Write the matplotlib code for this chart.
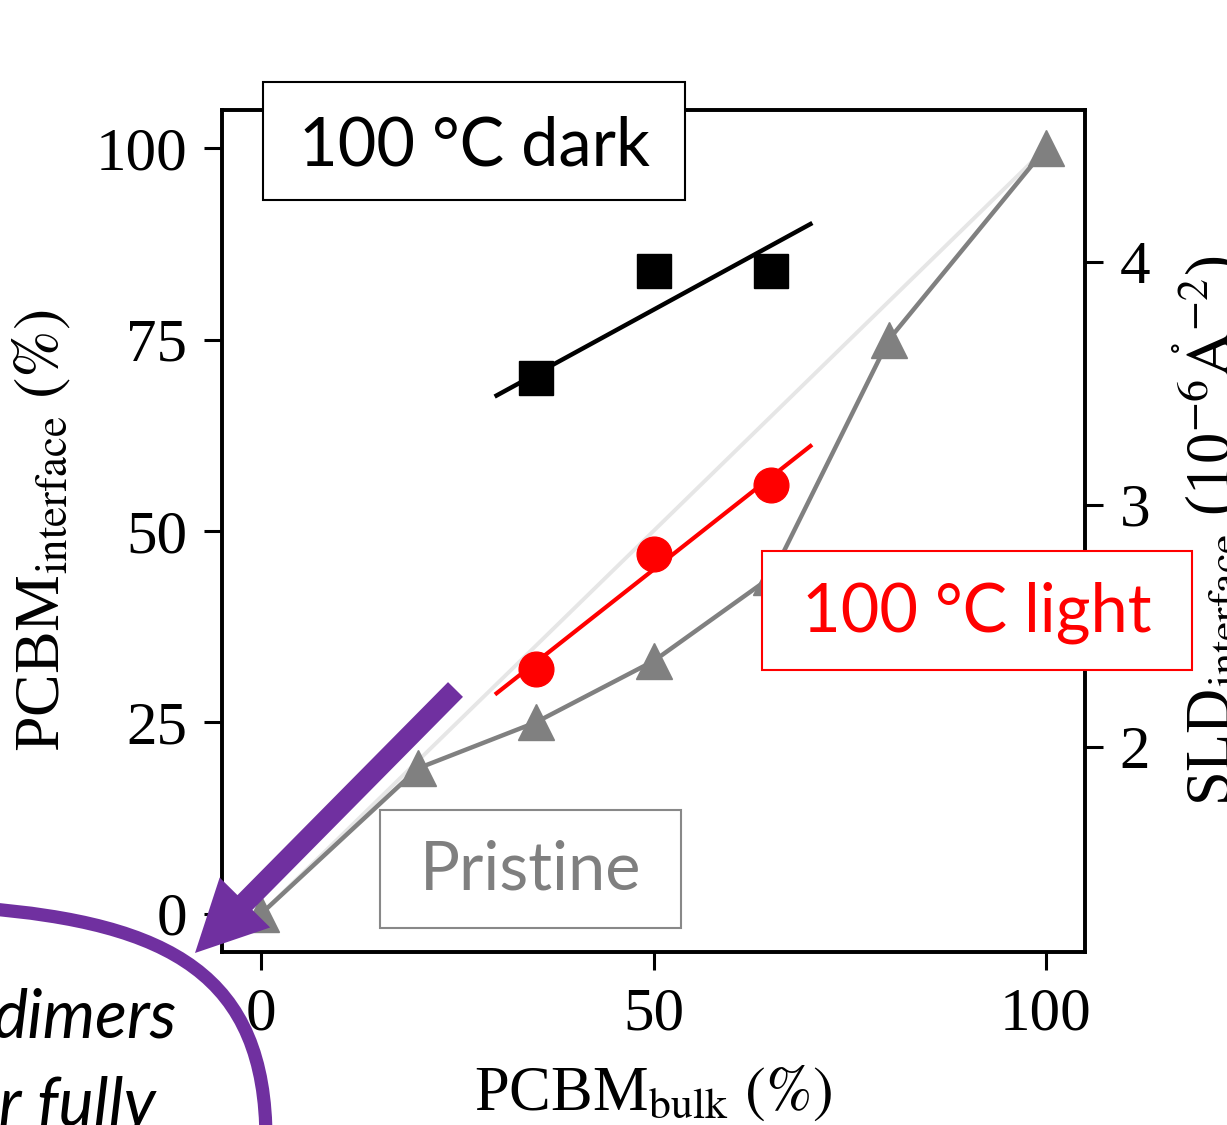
import numpy as np
import matplotlib
matplotlib.use('Agg')
import matplotlib.pyplot as plt
from matplotlib.patches import Rectangle, FancyArrow, PathPatch
from matplotlib.path import Path

# Datos: PCBM en volumen (%) frente a PCBM en la interfaz (%)
pristine_x = [0, 20, 35, 50, 65, 80, 100]
pristine_y = [0, 19, 25, 33, 44, 75, 100]

dark_x = [35, 50, 65]
dark_y = [70, 84, 84]

light_x = [35, 50, 65]
light_y = [32, 47, 56]

# Rectas de ajuste (extremos)
fit_x = [30, 70]
dark_fit_y = [67.7, 90.1]
light_fit_y = [28.8, 61.1]

# Referencia y = x
ref_x = [0, 100]
ref_y = [0, 100]

xticks = [0, 50, 100]
yticks = [0, 25, 50, 75, 100]
sld_ticks = [2, 3, 4]

W, H = 1227, 1125
PURPLE = '#7030A0'

plt.rcParams['font.family'] = ['Liberation Serif', 'DejaVu Serif']
plt.rcParams['mathtext.fontset'] = 'stix'


def fx(x):
    return x / W


def fy(y):
    return 1 - y / H


def inch(x, y):
    # pixeles (origen arriba a la izquierda) a pulgadas de la figura
    return (x / 100, (H - y) / 100)


def main():
    fig = plt.figure(figsize=(W / 100, H / 100), dpi=100)
    ax = fig.add_axes([fx(222), fy(952), fx(1085) - fx(222), fy(110) - fy(952)])

    # Linea de referencia y los datos
    ax.plot(ref_x, ref_y, color='#e6e6e6', lw=2.8, zorder=1)
    ax.plot(pristine_x, pristine_y, color='#808080', lw=3.2, marker='^',
            ms=26, zorder=2)
    ax.plot(fit_x, light_fit_y, color='red', lw=3.0, zorder=3)
    ax.plot(light_x, light_y, 'o', color='red', ms=25, zorder=3)
    ax.plot(fit_x, dark_fit_y, color='black', lw=3.2, zorder=3)
    ax.plot(dark_x, dark_y, 's', color='black', ms=25, zorder=3)

    ax.set_xlim(-5, 105)
    ax.set_ylim(-5, 105)
    ax.set_xticks(xticks)
    ax.set_yticks(yticks)
    ax.set_xlabel('PCBM$_\\mathrm{bulk}$ $(\\%)$', fontsize=45, labelpad=16)
    ax.set_ylabel('PCBM$_\\mathrm{interface}$ $(\\%)$', fontsize=46, labelpad=16)

    ax2 = ax.twinx()
    ax2.set_ylim(1.155, 4.627)
    ax2.set_yticks(sld_ticks)
    ax2.set_ylabel('SLD$_\\mathrm{interface}$ (10$^{-6}$$\\mathring{\\mathrm{A}}^{-2}$)',
                   fontsize=45, labelpad=14)

    for a in (ax, ax2):
        a.tick_params(direction='out', length=13, width=2.2, labelsize=44, pad=12)
        for s in a.spines.values():
            s.set_linewidth(2.6)

    # Cajas de texto
    boxes = [
        ((263, 82, 685, 200), '100 °C dark', 'black', 'black', 165),
        ((762, 551, 1192, 670), '100 °C light', 'red', 'red', 632),
        ((380, 810, 681, 928), 'Pristine', '#888888', '#7f7f7f', 889),
    ]
    for (x0, y0, x1, y1), txt, ec, tc, base in boxes:
        r = Rectangle((fx(x0), fy(y1)), fx(x1) - fx(x0), fy(y0) - fy(y1),
                      transform=fig.transFigure, facecolor='white',
                      edgecolor=ec, lw=1.5, zorder=5)
        fig.add_artist(r)
        fig.text(fx((x0 + x1) / 2), fy(base), txt, ha='center', va='baseline',
                 fontsize=48, color=tc, family='Lato', zorder=6)

    # Flecha morada
    t = fig.dpi_scale_trans
    tx, ty = inch(455.5, 689.5)
    hx, hy = inch(195, 953)
    arr = FancyArrow(tx, ty, hx - tx, hy - ty,
                     width=0.21, head_width=0.71, head_length=0.71,
                     length_includes_head=True, color=PURPLE, lw=0,
                     transform=t, zorder=7)
    fig.add_artist(arr)

    # Ovalo morado (solo se ve un trozo en la esquina)
    arc = Path([inch(-20, 908), inch(170, 923), inch(266, 975), inch(266, 1140)],
               [Path.MOVETO, Path.CURVE4, Path.CURVE4, Path.CURVE4])
    fig.add_artist(PathPatch(arc, facecolor='none', edgecolor=PURPLE, lw=9.5,
                             transform=t, zorder=7))

    fig.text(fx(176), fy(1037), 'dimers', ha='right', va='baseline',
             fontsize=48, family='Lato', style='italic', zorder=6)
    fig.text(fx(156), fy(1126), 'or fully', ha='right', va='baseline',
             fontsize=48, family='Lato', style='italic', zorder=6)

    fig.savefig('out.png', dpi=100)


if __name__ == "__main__":
    main()
